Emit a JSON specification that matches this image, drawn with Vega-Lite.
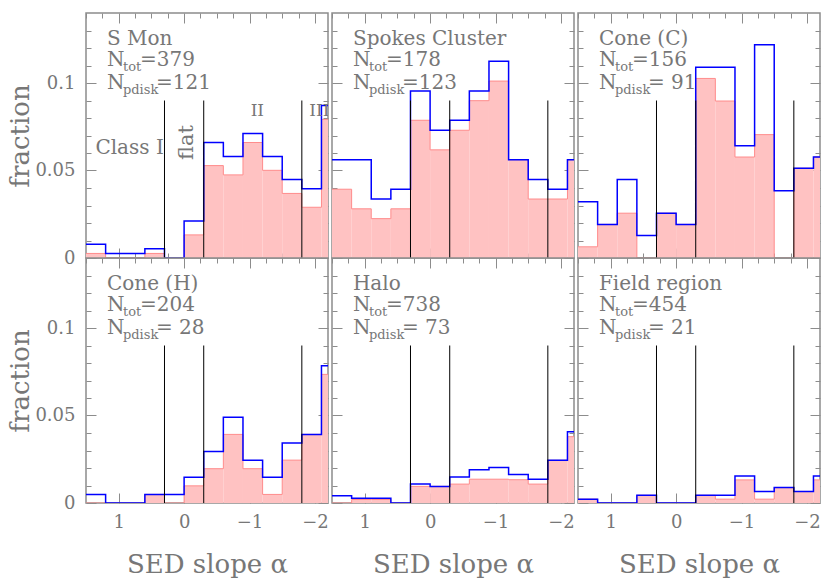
{
  "$schema": "https://vega.github.io/schema/vega-lite/v6.json",
  "background": "white",
  "padding": {"left": 7, "top": 11, "right": 5, "bottom": 0},
  "datasets": {
    "bins": [
      {"panel": "S Mon", "lo": 1.2, "hi": 1.5, "tot": 0.0079, "pd": 0.0026},
      {"panel": "S Mon", "lo": 0.9, "hi": 1.2, "tot": 0.0026, "pd": 0},
      {"panel": "S Mon", "lo": 0.6, "hi": 0.9, "tot": 0.0026, "pd": 0},
      {"panel": "S Mon", "lo": 0.3, "hi": 0.6, "tot": 0.0053, "pd": 0.0026},
      {"panel": "S Mon", "lo": 0, "hi": 0.3, "tot": 0, "pd": 0},
      {"panel": "S Mon", "lo": -0.3, "hi": 0, "tot": 0.0211, "pd": 0.0132},
      {"panel": "S Mon", "lo": -0.6, "hi": -0.3, "tot": 0.066, "pd": 0.0528},
      {"panel": "S Mon", "lo": -0.9, "hi": -0.6, "tot": 0.058, "pd": 0.0475},
      {"panel": "S Mon", "lo": -1.2, "hi": -0.9, "tot": 0.0712, "pd": 0.066},
      {"panel": "S Mon", "lo": -1.5, "hi": -1.2, "tot": 0.058, "pd": 0.0501},
      {"panel": "S Mon", "lo": -1.8, "hi": -1.5, "tot": 0.0449, "pd": 0.0369},
      {"panel": "S Mon", "lo": -2.1, "hi": -1.8, "tot": 0.0396, "pd": 0.029},
      {"panel": "S Mon", "lo": -2.4, "hi": -2.1, "tot": 0.0871, "pd": 0.0792},

      {"panel": "Spokes Cluster", "lo": 1.2, "hi": 1.5, "tot": 0.0562, "pd": 0.0393},
      {"panel": "Spokes Cluster", "lo": 0.9, "hi": 1.2, "tot": 0.0562, "pd": 0.0281},
      {"panel": "Spokes Cluster", "lo": 0.6, "hi": 0.9, "tot": 0.0337, "pd": 0.0225},
      {"panel": "Spokes Cluster", "lo": 0.3, "hi": 0.6, "tot": 0.0393, "pd": 0.0281},
      {"panel": "Spokes Cluster", "lo": 0, "hi": 0.3, "tot": 0.0955, "pd": 0.0787},
      {"panel": "Spokes Cluster", "lo": -0.3, "hi": 0, "tot": 0.073, "pd": 0.0618},
      {"panel": "Spokes Cluster", "lo": -0.6, "hi": -0.3, "tot": 0.0787, "pd": 0.073},
      {"panel": "Spokes Cluster", "lo": -0.9, "hi": -0.6, "tot": 0.0955, "pd": 0.0899},
      {"panel": "Spokes Cluster", "lo": -1.2, "hi": -0.9, "tot": 0.1124, "pd": 0.1011},
      {"panel": "Spokes Cluster", "lo": -1.5, "hi": -1.2, "tot": 0.0562, "pd": 0.0562},
      {"panel": "Spokes Cluster", "lo": -1.8, "hi": -1.5, "tot": 0.0449, "pd": 0.0337},
      {"panel": "Spokes Cluster", "lo": -2.1, "hi": -1.8, "tot": 0.0393, "pd": 0.0337},
      {"panel": "Spokes Cluster", "lo": -2.4, "hi": -2.1, "tot": 0.0562, "pd": 0.0562},

      {"panel": "Cone (C)", "lo": 1.2, "hi": 1.5, "tot": 0.0321, "pd": 0.0064},
      {"panel": "Cone (C)", "lo": 0.9, "hi": 1.2, "tot": 0.0192, "pd": 0.0192},
      {"panel": "Cone (C)", "lo": 0.6, "hi": 0.9, "tot": 0.0449, "pd": 0.0256},
      {"panel": "Cone (C)", "lo": 0.3, "hi": 0.6, "tot": 0.0128, "pd": 0},
      {"panel": "Cone (C)", "lo": 0, "hi": 0.3, "tot": 0.0256, "pd": 0.0256},
      {"panel": "Cone (C)", "lo": -0.3, "hi": 0, "tot": 0.0192, "pd": 0.0192},
      {"panel": "Cone (C)", "lo": -0.6, "hi": -0.3, "tot": 0.109, "pd": 0.1026},
      {"panel": "Cone (C)", "lo": -0.9, "hi": -0.6, "tot": 0.109, "pd": 0.0897},
      {"panel": "Cone (C)", "lo": -1.2, "hi": -0.9, "tot": 0.0641, "pd": 0.0577},
      {"panel": "Cone (C)", "lo": -1.5, "hi": -1.2, "tot": 0.1218, "pd": 0.0705},
      {"panel": "Cone (C)", "lo": -1.8, "hi": -1.5, "tot": 0.0385, "pd": 0},
      {"panel": "Cone (C)", "lo": -2.1, "hi": -1.8, "tot": 0.0513, "pd": 0.0513},
      {"panel": "Cone (C)", "lo": -2.4, "hi": -2.1, "tot": 0.0577, "pd": 0.0577},

      {"panel": "Cone (H)", "lo": 1.2, "hi": 1.5, "tot": 0.0049, "pd": 0},
      {"panel": "Cone (H)", "lo": 0.9, "hi": 1.2, "tot": 0, "pd": 0},
      {"panel": "Cone (H)", "lo": 0.6, "hi": 0.9, "tot": 0, "pd": 0},
      {"panel": "Cone (H)", "lo": 0.3, "hi": 0.6, "tot": 0.0049, "pd": 0.0049},
      {"panel": "Cone (H)", "lo": 0, "hi": 0.3, "tot": 0.0049, "pd": 0},
      {"panel": "Cone (H)", "lo": -0.3, "hi": 0, "tot": 0.0147, "pd": 0.0098},
      {"panel": "Cone (H)", "lo": -0.6, "hi": -0.3, "tot": 0.0294, "pd": 0.0196},
      {"panel": "Cone (H)", "lo": -0.9, "hi": -0.6, "tot": 0.049, "pd": 0.0392},
      {"panel": "Cone (H)", "lo": -1.2, "hi": -0.9, "tot": 0.0245, "pd": 0.0196},
      {"panel": "Cone (H)", "lo": -1.5, "hi": -1.2, "tot": 0.0147, "pd": 0.0049},
      {"panel": "Cone (H)", "lo": -1.8, "hi": -1.5, "tot": 0.0343, "pd": 0.0245},
      {"panel": "Cone (H)", "lo": -2.1, "hi": -1.8, "tot": 0.0392, "pd": 0.0392},
      {"panel": "Cone (H)", "lo": -2.4, "hi": -2.1, "tot": 0.0784, "pd": 0.0735},

      {"panel": "Halo", "lo": 1.2, "hi": 1.5, "tot": 0.0041, "pd": 0},
      {"panel": "Halo", "lo": 0.9, "hi": 1.2, "tot": 0.0027, "pd": 0.002},
      {"panel": "Halo", "lo": 0.6, "hi": 0.9, "tot": 0.0027, "pd": 0.002},
      {"panel": "Halo", "lo": 0.3, "hi": 0.6, "tot": 0, "pd": 0},
      {"panel": "Halo", "lo": 0, "hi": 0.3, "tot": 0.0108, "pd": 0.0095},
      {"panel": "Halo", "lo": -0.3, "hi": 0, "tot": 0.0095, "pd": 0.0095},
      {"panel": "Halo", "lo": -0.6, "hi": -0.3, "tot": 0.0149, "pd": 0.0108},
      {"panel": "Halo", "lo": -0.9, "hi": -0.6, "tot": 0.019, "pd": 0.0136},
      {"panel": "Halo", "lo": -1.2, "hi": -0.9, "tot": 0.0203, "pd": 0.0136},
      {"panel": "Halo", "lo": -1.5, "hi": -1.2, "tot": 0.0163, "pd": 0.0133},
      {"panel": "Halo", "lo": -1.8, "hi": -1.5, "tot": 0.0136, "pd": 0.0108},
      {"panel": "Halo", "lo": -2.1, "hi": -1.8, "tot": 0.0244, "pd": 0.0244},
      {"panel": "Halo", "lo": -2.4, "hi": -2.1, "tot": 0.0407, "pd": 0.0379},

      {"panel": "Field region", "lo": 1.2, "hi": 1.5, "tot": 0.0022, "pd": 0.0022},
      {"panel": "Field region", "lo": 0.9, "hi": 1.2, "tot": 0, "pd": 0},
      {"panel": "Field region", "lo": 0.6, "hi": 0.9, "tot": 0, "pd": 0},
      {"panel": "Field region", "lo": 0.3, "hi": 0.6, "tot": 0.0044, "pd": 0.0044},
      {"panel": "Field region", "lo": 0, "hi": 0.3, "tot": 0, "pd": 0},
      {"panel": "Field region", "lo": -0.3, "hi": 0, "tot": 0, "pd": 0},
      {"panel": "Field region", "lo": -0.6, "hi": -0.3, "tot": 0.0044, "pd": 0.0044},
      {"panel": "Field region", "lo": -0.9, "hi": -0.6, "tot": 0.0044, "pd": 0.0022},
      {"panel": "Field region", "lo": -1.2, "hi": -0.9, "tot": 0.0154, "pd": 0.0132},
      {"panel": "Field region", "lo": -1.5, "hi": -1.2, "tot": 0.0066, "pd": 0.0022},
      {"panel": "Field region", "lo": -1.8, "hi": -1.5, "tot": 0.0088, "pd": 0.0088},
      {"panel": "Field region", "lo": -2.1, "hi": -1.8, "tot": 0.0066, "pd": 0.0066},
      {"panel": "Field region", "lo": -2.4, "hi": -2.1, "tot": 0.0154, "pd": 0.0132}
    ],
    "info": [
      {"panel": "S Mon", "ntot": "=379", "npdisk": "=121"},
      {"panel": "Spokes Cluster", "ntot": "=178", "npdisk": "=123"},
      {"panel": "Cone (C)", "ntot": "=156", "npdisk": "= 91"},
      {"panel": "Cone (H)", "ntot": "=204", "npdisk": "= 28"},
      {"panel": "Halo", "ntot": "=738", "npdisk": "= 73"},
      {"panel": "Field region", "ntot": "=454", "npdisk": "= 21"}
    ],
    "classes": [{"alpha": 0.3}, {"alpha": -0.3}, {"alpha": -1.8}]
  },
  "config": {
    "view": {"stroke": "#8c8c8c", "strokeWidth": 1.5},
    "axis": {"grid": false, "domain": false, "tickColor": "#8c8c8c", "tickWidth": 1, "labelFont": "DejaVu Serif", "labelFontSize": 18, "labelColor": "#777777", "titleFont": "DejaVu Serif", "titleFontSize": 26, "titleFontWeight": "normal", "titleColor": "#777777", "labelOverlap": false, "labelFlush": false},
    "text": {"font": "DejaVu Serif", "fontSize": 20, "color": "#777777", "align": "left", "baseline": "alphabetic"}
  },
  "columns": 3,
  "spacing": {"row": 0, "column": 4},
  "bounds": "flush",
  "concat": [
    {
      "width": 242, "height": 245,
      "resolve": {"axis": {"x": "independent", "y": "independent"}},
      "layer": [
        {"data": {"name": "bins"}, "transform": [{"filter": "datum.panel === 'S Mon'"}],
         "mark": {"type": "rect", "fill": "#ffc2c2", "clip": true},
         "encoding": {
           "x": {"field": "lo", "type": "quantitative", "scale": {"domain": [-2.2, 1.5], "reverse": true, "nice": false, "zero": false},
                 "axis": {"orient": "bottom", "values": [1.5,1.25,1,0.75,0.5,0.25,0,-0.25,-0.5,-0.75,-1,-1.25,-1.5,-1.75,-2], "tickSize": {"condition": {"test": "datum.value % 1 === 0", "value": -10}, "value": -5}, "labels": false, "title": null}},
           "x2": {"field": "hi"},
           "y": {"field": "pd", "type": "quantitative", "scale": {"domain": [0, 0.14], "nice": false},
                 "axis": {"orient": "left", "values": [0,0.01,0.02,0.03,0.04,0.05,0.06,0.07,0.08,0.09,0.1,0.11,0.12,0.13], "tickSize": {"condition": {"test": "round(datum.value * 100) % 5 === 0", "value": -10}, "value": -5}, "format": "~g", "labelExpr": "round(datum.value * 100) % 5 === 0 ? datum.label : ''", "labelPadding": 21, "title": "fraction", "titlePadding": 1}},
           "y2": {"datum": 0}
         }},
        {"data": {"name": "bins"}, "transform": [{"filter": "datum.panel === 'S Mon'"}, {"fold": ["lo", "hi"], "as": ["edge", "a"]}],
         "mark": {"type": "line", "color": "#ff8c8c", "strokeWidth": 1, "clip": true},
         "encoding": {
           "x": {"field": "a", "type": "quantitative", "axis": {"orient": "top", "values": [1.5,1.25,1,0.75,0.5,0.25,0,-0.25,-0.5,-0.75,-1,-1.25,-1.5,-1.75,-2], "tickSize": {"condition": {"test": "datum.value % 1 === 0", "value": -10}, "value": -5}, "labels": false, "title": null}},
           "y": {"field": "pd", "type": "quantitative", "axis": {"orient": "right", "values": [0,0.01,0.02,0.03,0.04,0.05,0.06,0.07,0.08,0.09,0.1,0.11,0.12,0.13], "tickSize": {"condition": {"test": "round(datum.value * 100) % 5 === 0", "value": -10}, "value": -5}, "labels": false, "title": null}},
           "order": [{"field": "a", "type": "quantitative", "sort": "ascending"}, {"field": "edge", "type": "nominal", "sort": "ascending"}]
         }},
        {"data": {"name": "bins"}, "transform": [{"filter": "datum.panel === 'S Mon'"}, {"fold": ["lo", "hi"], "as": ["edge", "a"]}],
         "mark": {"type": "line", "color": "#0000ff", "strokeWidth": 1.5, "clip": true},
         "encoding": {
           "x": {"field": "a", "type": "quantitative", "axis": null},
           "y": {"field": "tot", "type": "quantitative", "axis": null},
           "order": [{"field": "a", "type": "quantitative", "sort": "ascending"}, {"field": "edge", "type": "nominal", "sort": "ascending"}]
         }},
        {"data": {"name": "classes"},
         "mark": {"type": "rule", "color": "black", "strokeWidth": 1},
         "encoding": {"x": {"field": "alpha", "type": "quantitative", "axis": null}, "y": {"datum": 0, "type": "quantitative", "axis": null}, "y2": {"datum": 0.09}}},
        {"data": {"name": "info"}, "transform": [{"filter": "datum.panel === 'S Mon'"}],
         "layer": [
           {"mark": {"type": "text"}, "encoding": {"x": {"datum": 1.18, "type": "quantitative", "axis": null}, "y": {"datum": 0.122, "type": "quantitative", "axis": null}, "text": {"field": "panel"}}},
           {"mark": {"type": "text"}, "encoding": {"x": {"datum": 1.18, "type": "quantitative", "axis": null}, "y": {"datum": 0.1095, "type": "quantitative", "axis": null}, "text": {"value": "N"}}},
           {"mark": {"type": "text", "dx": 16, "dy": 5, "fontSize": 13}, "encoding": {"x": {"datum": 1.18, "type": "quantitative", "axis": null}, "y": {"datum": 0.1095, "type": "quantitative", "axis": null}, "text": {"value": "tot"}}},
           {"mark": {"type": "text", "dx": 33}, "encoding": {"x": {"datum": 1.18, "type": "quantitative", "axis": null}, "y": {"datum": 0.1095, "type": "quantitative", "axis": null}, "text": {"field": "ntot"}}},
           {"mark": {"type": "text"}, "encoding": {"x": {"datum": 1.18, "type": "quantitative", "axis": null}, "y": {"datum": 0.0966, "type": "quantitative", "axis": null}, "text": {"value": "N"}}},
           {"mark": {"type": "text", "dx": 16, "dy": 5, "fontSize": 13}, "encoding": {"x": {"datum": 1.18, "type": "quantitative", "axis": null}, "y": {"datum": 0.0966, "type": "quantitative", "axis": null}, "text": {"value": "pdisk"}}},
           {"mark": {"type": "text", "dx": 49}, "encoding": {"x": {"datum": 1.18, "type": "quantitative", "axis": null}, "y": {"datum": 0.0966, "type": "quantitative", "axis": null}, "text": {"field": "npdisk"}}},
           {"mark": {"type": "text", "align": "right"}, "encoding": {"x": {"datum": 0.31, "type": "quantitative", "axis": null}, "y": {"datum": 0.0596, "type": "quantitative", "axis": null}, "text": {"value": "Class I"}}},
           {"mark": {"type": "text", "angle": 270, "align": "center", "baseline": "middle", "fontSize": 21}, "encoding": {"x": {"datum": -0.047, "type": "quantitative", "axis": null}, "y": {"datum": 0.066, "type": "quantitative", "axis": null}, "text": {"value": "flat"}}},
           {"mark": {"type": "text", "align": "center", "fontSize": 17}, "encoding": {"x": {"datum": -1.12, "type": "quantitative", "axis": null}, "y": {"datum": 0.081, "type": "quantitative", "axis": null}, "text": {"value": "II"}}},
           {"mark": {"type": "text", "fontSize": 17, "clip": true}, "encoding": {"x": {"datum": -1.915, "type": "quantitative", "axis": null}, "y": {"datum": 0.081, "type": "quantitative", "axis": null}, "text": {"value": "III"}}}
         ]}
      ]
    },
    {
      "width": 242, "height": 245,
      "resolve": {"axis": {"x": "independent", "y": "independent"}},
      "layer": [
        {"data": {"name": "bins"}, "transform": [{"filter": "datum.panel === 'Spokes Cluster'"}],
         "mark": {"type": "rect", "fill": "#ffc2c2", "clip": true},
         "encoding": {
           "x": {"field": "lo", "type": "quantitative", "scale": {"domain": [-2.2, 1.5], "reverse": true, "nice": false, "zero": false},
                 "axis": {"orient": "bottom", "values": [1.5,1.25,1,0.75,0.5,0.25,0,-0.25,-0.5,-0.75,-1,-1.25,-1.5,-1.75,-2], "tickSize": {"condition": {"test": "datum.value % 1 === 0", "value": -10}, "value": -5}, "labels": false, "title": null}},
           "x2": {"field": "hi"},
           "y": {"field": "pd", "type": "quantitative", "scale": {"domain": [0, 0.14], "nice": false},
                 "axis": {"orient": "left", "values": [0,0.01,0.02,0.03,0.04,0.05,0.06,0.07,0.08,0.09,0.1,0.11,0.12,0.13], "tickSize": {"condition": {"test": "round(datum.value * 100) % 5 === 0", "value": -10}, "value": -5}, "labels": false, "title": null}},
           "y2": {"datum": 0}
         }},
        {"data": {"name": "bins"}, "transform": [{"filter": "datum.panel === 'Spokes Cluster'"}, {"fold": ["lo", "hi"], "as": ["edge", "a"]}],
         "mark": {"type": "line", "color": "#ff8c8c", "strokeWidth": 1, "clip": true},
         "encoding": {
           "x": {"field": "a", "type": "quantitative", "axis": {"orient": "top", "values": [1.5,1.25,1,0.75,0.5,0.25,0,-0.25,-0.5,-0.75,-1,-1.25,-1.5,-1.75,-2], "tickSize": {"condition": {"test": "datum.value % 1 === 0", "value": -10}, "value": -5}, "labels": false, "title": null}},
           "y": {"field": "pd", "type": "quantitative", "axis": {"orient": "right", "values": [0,0.01,0.02,0.03,0.04,0.05,0.06,0.07,0.08,0.09,0.1,0.11,0.12,0.13], "tickSize": {"condition": {"test": "round(datum.value * 100) % 5 === 0", "value": -10}, "value": -5}, "labels": false, "title": null}},
           "order": [{"field": "a", "type": "quantitative", "sort": "ascending"}, {"field": "edge", "type": "nominal", "sort": "ascending"}]
         }},
        {"data": {"name": "bins"}, "transform": [{"filter": "datum.panel === 'Spokes Cluster'"}, {"fold": ["lo", "hi"], "as": ["edge", "a"]}],
         "mark": {"type": "line", "color": "#0000ff", "strokeWidth": 1.5, "clip": true},
         "encoding": {
           "x": {"field": "a", "type": "quantitative", "axis": null},
           "y": {"field": "tot", "type": "quantitative", "axis": null},
           "order": [{"field": "a", "type": "quantitative", "sort": "ascending"}, {"field": "edge", "type": "nominal", "sort": "ascending"}]
         }},
        {"data": {"name": "classes"},
         "mark": {"type": "rule", "color": "black", "strokeWidth": 1},
         "encoding": {"x": {"field": "alpha", "type": "quantitative", "axis": null}, "y": {"datum": 0, "type": "quantitative", "axis": null}, "y2": {"datum": 0.09}}},
        {"data": {"name": "info"}, "transform": [{"filter": "datum.panel === 'Spokes Cluster'"}],
         "layer": [
           {"mark": {"type": "text"}, "encoding": {"x": {"datum": 1.18, "type": "quantitative", "axis": null}, "y": {"datum": 0.122, "type": "quantitative", "axis": null}, "text": {"field": "panel"}}},
           {"mark": {"type": "text"}, "encoding": {"x": {"datum": 1.18, "type": "quantitative", "axis": null}, "y": {"datum": 0.1095, "type": "quantitative", "axis": null}, "text": {"value": "N"}}},
           {"mark": {"type": "text", "dx": 16, "dy": 5, "fontSize": 13}, "encoding": {"x": {"datum": 1.18, "type": "quantitative", "axis": null}, "y": {"datum": 0.1095, "type": "quantitative", "axis": null}, "text": {"value": "tot"}}},
           {"mark": {"type": "text", "dx": 33}, "encoding": {"x": {"datum": 1.18, "type": "quantitative", "axis": null}, "y": {"datum": 0.1095, "type": "quantitative", "axis": null}, "text": {"field": "ntot"}}},
           {"mark": {"type": "text"}, "encoding": {"x": {"datum": 1.18, "type": "quantitative", "axis": null}, "y": {"datum": 0.0966, "type": "quantitative", "axis": null}, "text": {"value": "N"}}},
           {"mark": {"type": "text", "dx": 16, "dy": 5, "fontSize": 13}, "encoding": {"x": {"datum": 1.18, "type": "quantitative", "axis": null}, "y": {"datum": 0.0966, "type": "quantitative", "axis": null}, "text": {"value": "pdisk"}}},
           {"mark": {"type": "text", "dx": 49}, "encoding": {"x": {"datum": 1.18, "type": "quantitative", "axis": null}, "y": {"datum": 0.0966, "type": "quantitative", "axis": null}, "text": {"field": "npdisk"}}}
         ]}
      ]
    },
    {
      "width": 242, "height": 245,
      "resolve": {"axis": {"x": "independent", "y": "independent"}},
      "layer": [
        {"data": {"name": "bins"}, "transform": [{"filter": "datum.panel === 'Cone (C)'"}],
         "mark": {"type": "rect", "fill": "#ffc2c2", "clip": true},
         "encoding": {
           "x": {"field": "lo", "type": "quantitative", "scale": {"domain": [-2.2, 1.5], "reverse": true, "nice": false, "zero": false},
                 "axis": {"orient": "bottom", "values": [1.5,1.25,1,0.75,0.5,0.25,0,-0.25,-0.5,-0.75,-1,-1.25,-1.5,-1.75,-2], "tickSize": {"condition": {"test": "datum.value % 1 === 0", "value": -10}, "value": -5}, "labels": false, "title": null}},
           "x2": {"field": "hi"},
           "y": {"field": "pd", "type": "quantitative", "scale": {"domain": [0, 0.14], "nice": false},
                 "axis": {"orient": "left", "values": [0,0.01,0.02,0.03,0.04,0.05,0.06,0.07,0.08,0.09,0.1,0.11,0.12,0.13], "tickSize": {"condition": {"test": "round(datum.value * 100) % 5 === 0", "value": -10}, "value": -5}, "labels": false, "title": null}},
           "y2": {"datum": 0}
         }},
        {"data": {"name": "bins"}, "transform": [{"filter": "datum.panel === 'Cone (C)'"}, {"fold": ["lo", "hi"], "as": ["edge", "a"]}],
         "mark": {"type": "line", "color": "#ff8c8c", "strokeWidth": 1, "clip": true},
         "encoding": {
           "x": {"field": "a", "type": "quantitative", "axis": {"orient": "top", "values": [1.5,1.25,1,0.75,0.5,0.25,0,-0.25,-0.5,-0.75,-1,-1.25,-1.5,-1.75,-2], "tickSize": {"condition": {"test": "datum.value % 1 === 0", "value": -10}, "value": -5}, "labels": false, "title": null}},
           "y": {"field": "pd", "type": "quantitative", "axis": {"orient": "right", "values": [0,0.01,0.02,0.03,0.04,0.05,0.06,0.07,0.08,0.09,0.1,0.11,0.12,0.13], "tickSize": {"condition": {"test": "round(datum.value * 100) % 5 === 0", "value": -10}, "value": -5}, "labels": false, "title": null}},
           "order": [{"field": "a", "type": "quantitative", "sort": "ascending"}, {"field": "edge", "type": "nominal", "sort": "ascending"}]
         }},
        {"data": {"name": "bins"}, "transform": [{"filter": "datum.panel === 'Cone (C)'"}, {"fold": ["lo", "hi"], "as": ["edge", "a"]}],
         "mark": {"type": "line", "color": "#0000ff", "strokeWidth": 1.5, "clip": true},
         "encoding": {
           "x": {"field": "a", "type": "quantitative", "axis": null},
           "y": {"field": "tot", "type": "quantitative", "axis": null},
           "order": [{"field": "a", "type": "quantitative", "sort": "ascending"}, {"field": "edge", "type": "nominal", "sort": "ascending"}]
         }},
        {"data": {"name": "classes"},
         "mark": {"type": "rule", "color": "black", "strokeWidth": 1},
         "encoding": {"x": {"field": "alpha", "type": "quantitative", "axis": null}, "y": {"datum": 0, "type": "quantitative", "axis": null}, "y2": {"datum": 0.09}}},
        {"data": {"name": "info"}, "transform": [{"filter": "datum.panel === 'Cone (C)'"}],
         "layer": [
           {"mark": {"type": "text"}, "encoding": {"x": {"datum": 1.18, "type": "quantitative", "axis": null}, "y": {"datum": 0.122, "type": "quantitative", "axis": null}, "text": {"field": "panel"}}},
           {"mark": {"type": "text"}, "encoding": {"x": {"datum": 1.18, "type": "quantitative", "axis": null}, "y": {"datum": 0.1095, "type": "quantitative", "axis": null}, "text": {"value": "N"}}},
           {"mark": {"type": "text", "dx": 16, "dy": 5, "fontSize": 13}, "encoding": {"x": {"datum": 1.18, "type": "quantitative", "axis": null}, "y": {"datum": 0.1095, "type": "quantitative", "axis": null}, "text": {"value": "tot"}}},
           {"mark": {"type": "text", "dx": 33}, "encoding": {"x": {"datum": 1.18, "type": "quantitative", "axis": null}, "y": {"datum": 0.1095, "type": "quantitative", "axis": null}, "text": {"field": "ntot"}}},
           {"mark": {"type": "text"}, "encoding": {"x": {"datum": 1.18, "type": "quantitative", "axis": null}, "y": {"datum": 0.0966, "type": "quantitative", "axis": null}, "text": {"value": "N"}}},
           {"mark": {"type": "text", "dx": 16, "dy": 5, "fontSize": 13}, "encoding": {"x": {"datum": 1.18, "type": "quantitative", "axis": null}, "y": {"datum": 0.0966, "type": "quantitative", "axis": null}, "text": {"value": "pdisk"}}},
           {"mark": {"type": "text", "dx": 49}, "encoding": {"x": {"datum": 1.18, "type": "quantitative", "axis": null}, "y": {"datum": 0.0966, "type": "quantitative", "axis": null}, "text": {"field": "npdisk"}}}
         ]}
      ]
    },
    {
      "width": 242, "height": 245,
      "resolve": {"axis": {"x": "independent", "y": "independent"}},
      "layer": [
        {"data": {"name": "bins"}, "transform": [{"filter": "datum.panel === 'Cone (H)'"}],
         "mark": {"type": "rect", "fill": "#ffc2c2", "clip": true},
         "encoding": {
           "x": {"field": "lo", "type": "quantitative", "scale": {"domain": [-2.2, 1.5], "reverse": true, "nice": false, "zero": false},
                 "axis": {"orient": "bottom", "values": [1.5,1.25,1,0.75,0.5,0.25,0,-0.25,-0.5,-0.75,-1,-1.25,-1.5,-1.75,-2], "tickSize": {"condition": {"test": "datum.value % 1 === 0", "value": -10}, "value": -5}, "format": "d", "labelExpr": "datum.value % 1 === 0 ? datum.label : ''", "labelPadding": 20, "title": "SED slope α", "titlePadding": 20}},
           "x2": {"field": "hi"},
           "y": {"field": "pd", "type": "quantitative", "scale": {"domain": [0, 0.14], "nice": false},
                 "axis": {"orient": "left", "values": [0,0.01,0.02,0.03,0.04,0.05,0.06,0.07,0.08,0.09,0.1,0.11,0.12,0.13], "tickSize": {"condition": {"test": "round(datum.value * 100) % 5 === 0", "value": -10}, "value": -5}, "format": "~g", "labelExpr": "round(datum.value * 100) % 5 === 0 ? datum.label : ''", "labelPadding": 21, "title": "fraction", "titlePadding": 1}},
           "y2": {"datum": 0}
         }},
        {"data": {"name": "bins"}, "transform": [{"filter": "datum.panel === 'Cone (H)'"}, {"fold": ["lo", "hi"], "as": ["edge", "a"]}],
         "mark": {"type": "line", "color": "#ff8c8c", "strokeWidth": 1, "clip": true},
         "encoding": {
           "x": {"field": "a", "type": "quantitative", "axis": {"orient": "top", "values": [1.5,1.25,1,0.75,0.5,0.25,0,-0.25,-0.5,-0.75,-1,-1.25,-1.5,-1.75,-2], "tickSize": {"condition": {"test": "datum.value % 1 === 0", "value": -10}, "value": -5}, "labels": false, "title": null}},
           "y": {"field": "pd", "type": "quantitative", "axis": {"orient": "right", "values": [0,0.01,0.02,0.03,0.04,0.05,0.06,0.07,0.08,0.09,0.1,0.11,0.12,0.13], "tickSize": {"condition": {"test": "round(datum.value * 100) % 5 === 0", "value": -10}, "value": -5}, "labels": false, "title": null}},
           "order": [{"field": "a", "type": "quantitative", "sort": "ascending"}, {"field": "edge", "type": "nominal", "sort": "ascending"}]
         }},
        {"data": {"name": "bins"}, "transform": [{"filter": "datum.panel === 'Cone (H)'"}, {"fold": ["lo", "hi"], "as": ["edge", "a"]}],
         "mark": {"type": "line", "color": "#0000ff", "strokeWidth": 1.5, "clip": true},
         "encoding": {
           "x": {"field": "a", "type": "quantitative", "axis": null},
           "y": {"field": "tot", "type": "quantitative", "axis": null},
           "order": [{"field": "a", "type": "quantitative", "sort": "ascending"}, {"field": "edge", "type": "nominal", "sort": "ascending"}]
         }},
        {"data": {"name": "classes"},
         "mark": {"type": "rule", "color": "black", "strokeWidth": 1},
         "encoding": {"x": {"field": "alpha", "type": "quantitative", "axis": null}, "y": {"datum": 0, "type": "quantitative", "axis": null}, "y2": {"datum": 0.09}}},
        {"data": {"name": "info"}, "transform": [{"filter": "datum.panel === 'Cone (H)'"}],
         "layer": [
           {"mark": {"type": "text"}, "encoding": {"x": {"datum": 1.18, "type": "quantitative", "axis": null}, "y": {"datum": 0.122, "type": "quantitative", "axis": null}, "text": {"field": "panel"}}},
           {"mark": {"type": "text"}, "encoding": {"x": {"datum": 1.18, "type": "quantitative", "axis": null}, "y": {"datum": 0.1095, "type": "quantitative", "axis": null}, "text": {"value": "N"}}},
           {"mark": {"type": "text", "dx": 16, "dy": 5, "fontSize": 13}, "encoding": {"x": {"datum": 1.18, "type": "quantitative", "axis": null}, "y": {"datum": 0.1095, "type": "quantitative", "axis": null}, "text": {"value": "tot"}}},
           {"mark": {"type": "text", "dx": 33}, "encoding": {"x": {"datum": 1.18, "type": "quantitative", "axis": null}, "y": {"datum": 0.1095, "type": "quantitative", "axis": null}, "text": {"field": "ntot"}}},
           {"mark": {"type": "text"}, "encoding": {"x": {"datum": 1.18, "type": "quantitative", "axis": null}, "y": {"datum": 0.0966, "type": "quantitative", "axis": null}, "text": {"value": "N"}}},
           {"mark": {"type": "text", "dx": 16, "dy": 5, "fontSize": 13}, "encoding": {"x": {"datum": 1.18, "type": "quantitative", "axis": null}, "y": {"datum": 0.0966, "type": "quantitative", "axis": null}, "text": {"value": "pdisk"}}},
           {"mark": {"type": "text", "dx": 49}, "encoding": {"x": {"datum": 1.18, "type": "quantitative", "axis": null}, "y": {"datum": 0.0966, "type": "quantitative", "axis": null}, "text": {"field": "npdisk"}}}
         ]}
      ]
    },
    {
      "width": 242, "height": 245,
      "resolve": {"axis": {"x": "independent", "y": "independent"}},
      "layer": [
        {"data": {"name": "bins"}, "transform": [{"filter": "datum.panel === 'Halo'"}],
         "mark": {"type": "rect", "fill": "#ffc2c2", "clip": true},
         "encoding": {
           "x": {"field": "lo", "type": "quantitative", "scale": {"domain": [-2.2, 1.5], "reverse": true, "nice": false, "zero": false},
                 "axis": {"orient": "bottom", "values": [1.5,1.25,1,0.75,0.5,0.25,0,-0.25,-0.5,-0.75,-1,-1.25,-1.5,-1.75,-2], "tickSize": {"condition": {"test": "datum.value % 1 === 0", "value": -10}, "value": -5}, "format": "d", "labelExpr": "datum.value % 1 === 0 ? datum.label : ''", "labelPadding": 20, "title": "SED slope α", "titlePadding": 20}},
           "x2": {"field": "hi"},
           "y": {"field": "pd", "type": "quantitative", "scale": {"domain": [0, 0.14], "nice": false},
                 "axis": {"orient": "left", "values": [0,0.01,0.02,0.03,0.04,0.05,0.06,0.07,0.08,0.09,0.1,0.11,0.12,0.13], "tickSize": {"condition": {"test": "round(datum.value * 100) % 5 === 0", "value": -10}, "value": -5}, "labels": false, "title": null}},
           "y2": {"datum": 0}
         }},
        {"data": {"name": "bins"}, "transform": [{"filter": "datum.panel === 'Halo'"}, {"fold": ["lo", "hi"], "as": ["edge", "a"]}],
         "mark": {"type": "line", "color": "#ff8c8c", "strokeWidth": 1, "clip": true},
         "encoding": {
           "x": {"field": "a", "type": "quantitative", "axis": {"orient": "top", "values": [1.5,1.25,1,0.75,0.5,0.25,0,-0.25,-0.5,-0.75,-1,-1.25,-1.5,-1.75,-2], "tickSize": {"condition": {"test": "datum.value % 1 === 0", "value": -10}, "value": -5}, "labels": false, "title": null}},
           "y": {"field": "pd", "type": "quantitative", "axis": {"orient": "right", "values": [0,0.01,0.02,0.03,0.04,0.05,0.06,0.07,0.08,0.09,0.1,0.11,0.12,0.13], "tickSize": {"condition": {"test": "round(datum.value * 100) % 5 === 0", "value": -10}, "value": -5}, "labels": false, "title": null}},
           "order": [{"field": "a", "type": "quantitative", "sort": "ascending"}, {"field": "edge", "type": "nominal", "sort": "ascending"}]
         }},
        {"data": {"name": "bins"}, "transform": [{"filter": "datum.panel === 'Halo'"}, {"fold": ["lo", "hi"], "as": ["edge", "a"]}],
         "mark": {"type": "line", "color": "#0000ff", "strokeWidth": 1.5, "clip": true},
         "encoding": {
           "x": {"field": "a", "type": "quantitative", "axis": null},
           "y": {"field": "tot", "type": "quantitative", "axis": null},
           "order": [{"field": "a", "type": "quantitative", "sort": "ascending"}, {"field": "edge", "type": "nominal", "sort": "ascending"}]
         }},
        {"data": {"name": "classes"},
         "mark": {"type": "rule", "color": "black", "strokeWidth": 1},
         "encoding": {"x": {"field": "alpha", "type": "quantitative", "axis": null}, "y": {"datum": 0, "type": "quantitative", "axis": null}, "y2": {"datum": 0.09}}},
        {"data": {"name": "info"}, "transform": [{"filter": "datum.panel === 'Halo'"}],
         "layer": [
           {"mark": {"type": "text"}, "encoding": {"x": {"datum": 1.18, "type": "quantitative", "axis": null}, "y": {"datum": 0.122, "type": "quantitative", "axis": null}, "text": {"field": "panel"}}},
           {"mark": {"type": "text"}, "encoding": {"x": {"datum": 1.18, "type": "quantitative", "axis": null}, "y": {"datum": 0.1095, "type": "quantitative", "axis": null}, "text": {"value": "N"}}},
           {"mark": {"type": "text", "dx": 16, "dy": 5, "fontSize": 13}, "encoding": {"x": {"datum": 1.18, "type": "quantitative", "axis": null}, "y": {"datum": 0.1095, "type": "quantitative", "axis": null}, "text": {"value": "tot"}}},
           {"mark": {"type": "text", "dx": 33}, "encoding": {"x": {"datum": 1.18, "type": "quantitative", "axis": null}, "y": {"datum": 0.1095, "type": "quantitative", "axis": null}, "text": {"field": "ntot"}}},
           {"mark": {"type": "text"}, "encoding": {"x": {"datum": 1.18, "type": "quantitative", "axis": null}, "y": {"datum": 0.0966, "type": "quantitative", "axis": null}, "text": {"value": "N"}}},
           {"mark": {"type": "text", "dx": 16, "dy": 5, "fontSize": 13}, "encoding": {"x": {"datum": 1.18, "type": "quantitative", "axis": null}, "y": {"datum": 0.0966, "type": "quantitative", "axis": null}, "text": {"value": "pdisk"}}},
           {"mark": {"type": "text", "dx": 49}, "encoding": {"x": {"datum": 1.18, "type": "quantitative", "axis": null}, "y": {"datum": 0.0966, "type": "quantitative", "axis": null}, "text": {"field": "npdisk"}}}
         ]}
      ]
    },
    {
      "width": 242, "height": 245,
      "resolve": {"axis": {"x": "independent", "y": "independent"}},
      "layer": [
        {"data": {"name": "bins"}, "transform": [{"filter": "datum.panel === 'Field region'"}],
         "mark": {"type": "rect", "fill": "#ffc2c2", "clip": true},
         "encoding": {
           "x": {"field": "lo", "type": "quantitative", "scale": {"domain": [-2.2, 1.5], "reverse": true, "nice": false, "zero": false},
                 "axis": {"orient": "bottom", "values": [1.5,1.25,1,0.75,0.5,0.25,0,-0.25,-0.5,-0.75,-1,-1.25,-1.5,-1.75,-2], "tickSize": {"condition": {"test": "datum.value % 1 === 0", "value": -10}, "value": -5}, "format": "d", "labelExpr": "datum.value % 1 === 0 ? datum.label : ''", "labelPadding": 20, "title": "SED slope α", "titlePadding": 20}},
           "x2": {"field": "hi"},
           "y": {"field": "pd", "type": "quantitative", "scale": {"domain": [0, 0.14], "nice": false},
                 "axis": {"orient": "left", "values": [0,0.01,0.02,0.03,0.04,0.05,0.06,0.07,0.08,0.09,0.1,0.11,0.12,0.13], "tickSize": {"condition": {"test": "round(datum.value * 100) % 5 === 0", "value": -10}, "value": -5}, "labels": false, "title": null}},
           "y2": {"datum": 0}
         }},
        {"data": {"name": "bins"}, "transform": [{"filter": "datum.panel === 'Field region'"}, {"fold": ["lo", "hi"], "as": ["edge", "a"]}],
         "mark": {"type": "line", "color": "#ff8c8c", "strokeWidth": 1, "clip": true},
         "encoding": {
           "x": {"field": "a", "type": "quantitative", "axis": {"orient": "top", "values": [1.5,1.25,1,0.75,0.5,0.25,0,-0.25,-0.5,-0.75,-1,-1.25,-1.5,-1.75,-2], "tickSize": {"condition": {"test": "datum.value % 1 === 0", "value": -10}, "value": -5}, "labels": false, "title": null}},
           "y": {"field": "pd", "type": "quantitative", "axis": {"orient": "right", "values": [0,0.01,0.02,0.03,0.04,0.05,0.06,0.07,0.08,0.09,0.1,0.11,0.12,0.13], "tickSize": {"condition": {"test": "round(datum.value * 100) % 5 === 0", "value": -10}, "value": -5}, "labels": false, "title": null}},
           "order": [{"field": "a", "type": "quantitative", "sort": "ascending"}, {"field": "edge", "type": "nominal", "sort": "ascending"}]
         }},
        {"data": {"name": "bins"}, "transform": [{"filter": "datum.panel === 'Field region'"}, {"fold": ["lo", "hi"], "as": ["edge", "a"]}],
         "mark": {"type": "line", "color": "#0000ff", "strokeWidth": 1.5, "clip": true},
         "encoding": {
           "x": {"field": "a", "type": "quantitative", "axis": null},
           "y": {"field": "tot", "type": "quantitative", "axis": null},
           "order": [{"field": "a", "type": "quantitative", "sort": "ascending"}, {"field": "edge", "type": "nominal", "sort": "ascending"}]
         }},
        {"data": {"name": "classes"},
         "mark": {"type": "rule", "color": "black", "strokeWidth": 1},
         "encoding": {"x": {"field": "alpha", "type": "quantitative", "axis": null}, "y": {"datum": 0, "type": "quantitative", "axis": null}, "y2": {"datum": 0.09}}},
        {"data": {"name": "info"}, "transform": [{"filter": "datum.panel === 'Field region'"}],
         "layer": [
           {"mark": {"type": "text"}, "encoding": {"x": {"datum": 1.18, "type": "quantitative", "axis": null}, "y": {"datum": 0.122, "type": "quantitative", "axis": null}, "text": {"field": "panel"}}},
           {"mark": {"type": "text"}, "encoding": {"x": {"datum": 1.18, "type": "quantitative", "axis": null}, "y": {"datum": 0.1095, "type": "quantitative", "axis": null}, "text": {"value": "N"}}},
           {"mark": {"type": "text", "dx": 16, "dy": 5, "fontSize": 13}, "encoding": {"x": {"datum": 1.18, "type": "quantitative", "axis": null}, "y": {"datum": 0.1095, "type": "quantitative", "axis": null}, "text": {"value": "tot"}}},
           {"mark": {"type": "text", "dx": 33}, "encoding": {"x": {"datum": 1.18, "type": "quantitative", "axis": null}, "y": {"datum": 0.1095, "type": "quantitative", "axis": null}, "text": {"field": "ntot"}}},
           {"mark": {"type": "text"}, "encoding": {"x": {"datum": 1.18, "type": "quantitative", "axis": null}, "y": {"datum": 0.0966, "type": "quantitative", "axis": null}, "text": {"value": "N"}}},
           {"mark": {"type": "text", "dx": 16, "dy": 5, "fontSize": 13}, "encoding": {"x": {"datum": 1.18, "type": "quantitative", "axis": null}, "y": {"datum": 0.0966, "type": "quantitative", "axis": null}, "text": {"value": "pdisk"}}},
           {"mark": {"type": "text", "dx": 49}, "encoding": {"x": {"datum": 1.18, "type": "quantitative", "axis": null}, "y": {"datum": 0.0966, "type": "quantitative", "axis": null}, "text": {"field": "npdisk"}}}
         ]}
      ]
    }
  ]
}
